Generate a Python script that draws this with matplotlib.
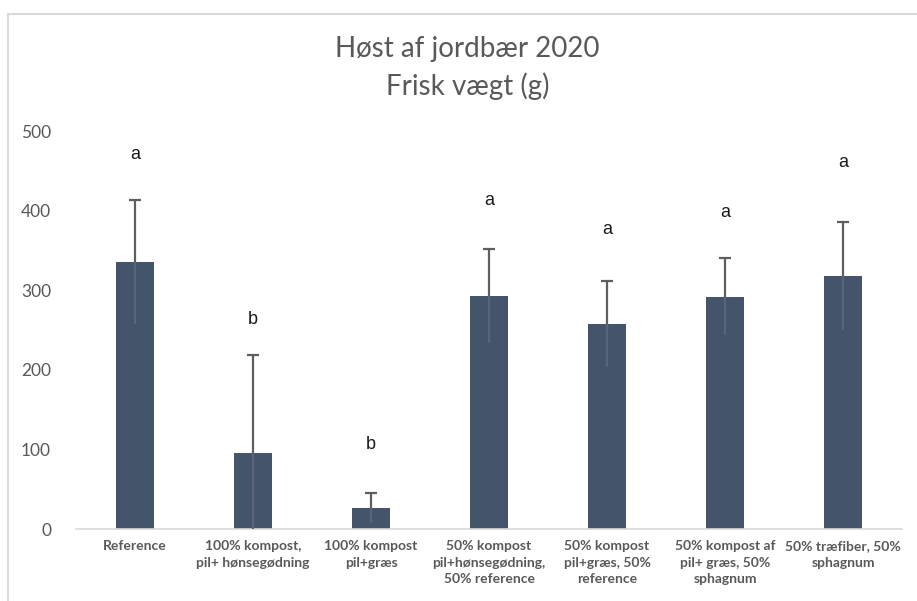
import matplotlib
matplotlib.use("Agg")
import matplotlib.pyplot as plt
from matplotlib.lines import Line2D

categories = [
    "Reference",
    "100% kompost,\npil+ hønsegødning",
    "100% kompost\npil+græs",
    "50% kompost\npil+hønsegødning,\n50% reference",
    "50% kompost\npil+græs, 50%\nreference",
    "50% kompost af\npil+ græs, 50%\nsphagnum",
    "50% træfiber, 50%\nsphagnum",
]
values = [335, 95, 26, 293, 258, 292, 318]
errors = [78, 124, 19, 59, 54, 48, 68]
letters = ["a", "b", "b", "a", "a", "a", "a"]
letter_y = [470, 263, 106, 413, 376, 397, 460]
yticks = [0, 100, 200, 300, 400, 500]

W, H = 917, 601
fig = plt.figure(figsize=(W / 100, H / 100), dpi=100)
fig.patch.set_facecolor("white")

# outer chart frame (left and top)
fig.add_artist(Line2D([8 / W, 8 / W], [0, 1 - 14 / H], transform=fig.transFigure,
                      color="#D9D9D9", lw=1.5))
fig.add_artist(Line2D([8 / W, 1], [1 - 14 / H, 1 - 14 / H], transform=fig.transFigure,
                      color="#D9D9D9", lw=1.5))

left, right = 76 / W, 902 / W
bottom, top = 1 - 529 / H, 1 - 131 / H
ax = fig.add_axes([left, bottom, right - left, top - bottom])

x = list(range(len(categories)))
zeros = [0] * len(errors)
ax.bar(x, values, width=0.32, color="#44546A", zorder=2)
# lower half of the error bar (faint, inside the bar)
ax.errorbar(x, values, yerr=[errors, zeros], fmt="none", ecolor="#5A6474", elinewidth=1.6,
            capsize=0, zorder=3)
# upper half with cap
eb = ax.errorbar(x, values, yerr=[zeros, errors], fmt="none", ecolor="#5E5E5E",
                 elinewidth=1.6, capsize=4, capthick=1.6, zorder=3)
caps = eb[1]
if len(caps) >= 2:
    caps[0].set_visible(False)

for xi, t, yy in zip(x, letters, letter_y):
    ax.text(xi, yy, t, ha="center", va="center", fontsize=13, color="#1a1a1a",
            family="Liberation Sans")

ax.set_xlim(-0.5, len(categories) - 0.5)
ax.set_ylim(0, 500)
ax.set_yticks(yticks)
ax.set_yticklabels([str(v) for v in yticks], fontsize=12.5, color="#595959", family="Lato")
ax.tick_params(axis="y", length=0, pad=18)
ax.set_xticks(x)
ax.set_xticklabels(categories, fontsize=10, color="#595959", family="Lato",
                   fontweight="bold", linespacing=1.45, va="top")
ax.tick_params(axis="x", length=0, pad=8)

for s in ["left", "right", "top"]:
    ax.spines[s].set_visible(False)
ax.spines["bottom"].set_color("#D9D9D9")
ax.spines["bottom"].set_linewidth(1.2)

fig.text((335 + 600) / 2 / W, 1 - 68 / H, "Høst af jordbær 2020\nFrisk vægt (g)",
         ha="center", va="center", fontsize=20, color="#595959", family="Lato",
         linespacing=1.45)

fig.savefig("out.png", dpi=100, facecolor="white")
